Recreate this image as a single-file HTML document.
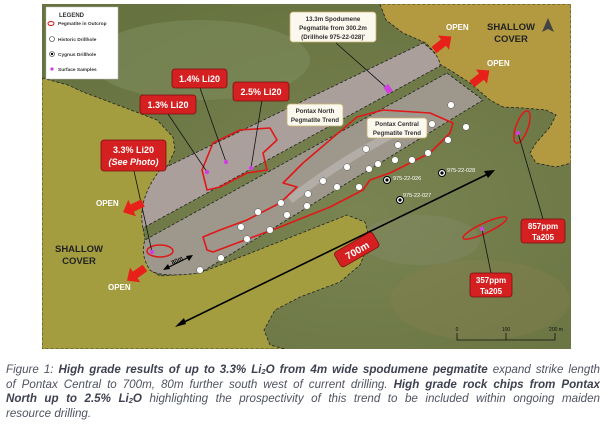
<!DOCTYPE html>
<html><head><meta charset="utf-8"><style>
html,body{margin:0;padding:0;background:#fff;width:606px;height:424px;overflow:hidden}
svg{position:absolute;left:0;top:0}
.cap{position:absolute;left:6px;width:594px;font-family:"Liberation Sans",sans-serif;font-style:italic;font-size:11.6px;color:#4e5360;line-height:14.5px}
.cap div{height:14.5px;text-align:justify;text-align-last:justify;white-space:nowrap;overflow:hidden}
.cap div.l{text-align-last:left}
b{font-weight:bold;color:#3e4250}
.s{font-size:7.5px;position:relative;top:1px}
</style></head><body>
<svg width="606" height="424" viewBox="0 0 606 424" font-family="Liberation Sans, sans-serif">
<defs>
<radialGradient id="g1" cx="0.6" cy="0.6" r="0.7"><stop offset="0" stop-color="#7a8453"/><stop offset="1" stop-color="#66723f"/></radialGradient>
<clipPath id="mc"><rect x="42" y="4" width="529" height="345"/></clipPath>
</defs>
<g clip-path="url(#mc)">
<rect x="42" y="4" width="529" height="345" fill="url(#g1)"/>
<ellipse cx="200" cy="60" rx="110" ry="40" fill="#7d8a5c" opacity="0.6"/>
<ellipse cx="480" cy="300" rx="90" ry="40" fill="#8a8050" opacity="0.35"/>
<ellipse cx="420" cy="240" rx="60" ry="25" fill="#848a66" opacity="0.4"/>
<path d="M42,78 L68,85 L83,92 L123,107 L157,120 L173,137 L175,150 L167,167 L153,187 L143,228 L145,240 L150,270 L160,276 L200,273 L347,215 L365,222 L370,240 L360,265 L340,282 L300,297 L275,310 L264,330 L270,345 L285,349 L42,349 Z" fill="#a39d40" stroke="#222" stroke-width="0.8" stroke-dasharray="3,2"/>
<path d="M380,4 L386,20 L403,33 L426,43 L435,53 L436,62 L453,72 L470,83 L490,100 L503,107 L523,108 L546,110 L556,115 L550,127 L536,143 L530,153 L536,163 L556,167 L571,163 L571,4 Z" fill="#b39a40" stroke="#222" stroke-width="0.8" stroke-dasharray="3,2"/>
<path d="M160,170 L423,43 Q440,55 440,66 L143,228 Q137,200 160,170 Z" fill="#ab9f9c" stroke="#222" stroke-width="0.8" stroke-dasharray="3,2"/>
<path d="M447,73 L483,100 L200,273 Q160,278 150,270 Q140,255 145,240 Z" fill="#9d978c" stroke="#222" stroke-width="0.8" stroke-dasharray="3,2"/>
<path d="M290,200 Q340,160 410,125" stroke="#c8c4c0" stroke-width="8" fill="none" opacity="0.5"/>
<path d="M207,190 L202,170 L213,143 L240,130 L270,128 L277,140 L263,153 L267,170 L247,173 L220,187 Z" fill="none" stroke="#e01818" stroke-width="1.6" stroke-linejoin="round"/>
<path d="M207,250 L203,237 L220,230 L247,220 L280,203 L297,187 L283,183 L303,163 L330,140 L357,117 L383,110 L430,113 L453,123 L450,133 L430,153 L390,173 L370,180 L363,190 L330,207 L280,227 L237,243 L213,252 Z" fill="none" stroke="#e01818" stroke-width="1.6" stroke-linejoin="round"/>
<ellipse cx="160" cy="251" rx="13" ry="6" fill="none" stroke="#e01818" stroke-width="1.5"/>
<ellipse cx="485" cy="228" rx="24" ry="5" transform="rotate(-25 485 228)" fill="none" stroke="#e01818" stroke-width="1.5"/>
<ellipse cx="522" cy="127" rx="6" ry="17" transform="rotate(20 522 127)" fill="none" stroke="#e01818" stroke-width="1.5"/>
<g fill="#fff" stroke="#555" stroke-width="0.5">
<circle cx="451" cy="105" r="3.3"/><circle cx="432" cy="124" r="3.3"/><circle cx="466" cy="127" r="3.3"/><circle cx="448" cy="140" r="3.3"/><circle cx="428" cy="153" r="3.3"/><circle cx="412" cy="160" r="3.3"/><circle cx="398" cy="145" r="3.3"/><circle cx="395" cy="160" r="3.3"/><circle cx="378" cy="164" r="3.3"/><circle cx="369" cy="169" r="3.3"/><circle cx="366" cy="149" r="3.3"/><circle cx="347" cy="167" r="3.3"/><circle cx="359" cy="187" r="3.3"/><circle cx="337" cy="187" r="3.3"/><circle cx="323" cy="181" r="3.3"/><circle cx="308" cy="194" r="3.3"/><circle cx="307" cy="206" r="3.3"/><circle cx="281" cy="203" r="3.3"/><circle cx="287" cy="215" r="3.3"/><circle cx="258" cy="212" r="3.3"/><circle cx="241" cy="227" r="3.3"/><circle cx="270" cy="230" r="3.3"/><circle cx="247" cy="239" r="3.3"/><circle cx="221" cy="258" r="3.3"/><circle cx="200" cy="270" r="3.3"/>
</g>
<g fill="#fff" stroke="#000" stroke-width="1"><circle cx="387" cy="180" r="3.5"/><circle cx="442" cy="173" r="3.5"/><circle cx="400" cy="200" r="3.5"/></g>
<g fill="#000"><circle cx="387" cy="180" r="1.6"/><circle cx="442" cy="173" r="1.6"/><circle cx="400" cy="200" r="1.6"/></g>
<g fill="#fff" font-size="5.5"><text x="393" y="180">975-22-026</text><text x="447" y="172">975-22-028</text><text x="403" y="197">975-22-027</text></g>
<g stroke="#111" stroke-width="0.8"><line x1="200" y1="88" x2="226" y2="162"/><line x1="262" y1="100" x2="251" y2="168"/><line x1="168" y1="114" x2="207" y2="172"/><line x1="134" y1="171" x2="152" y2="252"/><line x1="518" y1="133" x2="543" y2="219"/><line x1="482" y1="229" x2="491" y2="273"/><line x1="336" y1="43" x2="388" y2="89"/></g>
<g fill="#d040e0"><circle cx="207" cy="172" r="2.2"/><circle cx="226" cy="162" r="2.2"/><circle cx="251" cy="168" r="2.2"/><circle cx="152" cy="252" r="2.2"/><circle cx="482" cy="229" r="2.2"/><circle cx="518" cy="133" r="2.2"/><rect x="385" y="85" width="6" height="8" transform="rotate(-35 388 89)"/></g>
<g stroke="#000" stroke-width="1.6" fill="#000"><line x1="178" y1="325" x2="492" y2="172"/></g>
<path d="M175,327 L184,318 L186,324 Z" fill="#000"/><path d="M495,170 L484,171 L488,178 Z" fill="#000"/>
<g stroke="#000" stroke-width="1.2"><line x1="165" y1="269" x2="191" y2="256"/></g>
<path d="M163,270 L168,264 L170,269Z M193,255 L186,256 L189,261Z" fill="#000"/>
<text x="172" y="262" font-size="6" fill="#111" font-weight="bold" transform="rotate(-27 178 262)">80m</text>
<g fill="#e8201a">
<path d="M0,-4 L12,-4 L12,-9 L22,0 L12,9 L12,4 L0,4 Z" transform="translate(434,50) rotate(-38)"/>
<path d="M0,-4 L12,-4 L12,-9 L22,0 L12,9 L12,4 L0,4 Z" transform="translate(472,84) rotate(-38)"/>
<path d="M0,-4 L12,-4 L12,-9 L22,0 L12,9 L12,4 L0,4 Z" transform="translate(143,203) rotate(155)"/>
<path d="M0,-4 L12,-4 L12,-9 L22,0 L12,9 L12,4 L0,4 Z" transform="translate(145,268) rotate(145)"/>
</g>
<g fill="#fff" font-size="8" font-weight="bold"><text x="446" y="30">OPEN</text><text x="487" y="66">OPEN</text><text x="96" y="206">OPEN</text><text x="108" y="290">OPEN</text></g>
<g fill="#222" font-size="9.5" font-weight="bold" text-anchor="middle"><text x="511" y="30">SHALLOW</text><text x="511" y="42">COVER</text><text x="79" y="252">SHALLOW</text><text x="79" y="264">COVER</text></g>
<path d="M548,18 L554,32 L548,29 L542,32 Z" fill="#444"/>
<g stroke="#111" stroke-width="0.8" fill="none"><path d="M457,333 L457,340 L555,340 L555,333 M506,333 L506,340"/></g>
<g font-size="5" fill="#111" text-anchor="middle"><text x="457" y="331">0</text><text x="506" y="331">100</text><text x="556" y="331">200 m</text></g>
<g fill="#d42020" stroke="#7a1010" stroke-width="0.8">
<rect x="172" y="69" width="55" height="19" rx="3"/><rect x="233" y="82" width="56" height="19" rx="3"/><rect x="140" y="95" width="56" height="19" rx="3"/><rect x="101" y="140" width="65" height="31" rx="3"/>
<rect x="521" y="219" width="44" height="24" rx="3"/><rect x="470" y="273" width="42" height="24" rx="3"/>
<rect x="335" y="241" width="44" height="17" rx="3" transform="rotate(-30 357 250)"/>
</g>
<g fill="#fff" font-weight="bold" text-anchor="middle" font-size="9">
<text x="199.5" y="82">1.4% Li20</text><text x="261" y="95">2.5% Li20</text><text x="168" y="108">1.3% Li20</text><text x="133.5" y="153">3.3% Li20</text><text x="133.5" y="165" font-style="italic">(See Photo)</text>
<text x="543" y="229" font-size="8">857ppm</text><text x="543" y="240" font-size="8">Ta205</text><text x="491" y="283" font-size="8">357ppm</text><text x="491" y="294" font-size="8">Ta205</text>
<text x="357" y="254" font-size="10" transform="rotate(-30 357 250)">700m</text>
</g>
<g fill="#fbf8ee" stroke="#c9b273" stroke-width="0.8"><rect x="290" y="12" width="86" height="30" rx="3"/><rect x="287" y="104" width="56" height="22" rx="3"/><rect x="367" y="118" width="60" height="20" rx="3"/></g>
<g fill="#333" font-weight="bold" text-anchor="middle" font-size="6.2">
<text x="333" y="21">13.3m Spodumene</text><text x="333" y="30">Pegmatite from 300.2m</text><text x="333" y="39">(Drillhole 975-22-028)'</text>
<text x="315" y="113">Pontax North</text><text x="315" y="122">Pegmatite Trend</text>
<text x="397" y="126">Pontax Central</text><text x="397" y="135">Pegmatite Trend</text>
</g>
<rect x="46" y="7" width="72" height="72" fill="#fff" stroke="#bbb" stroke-width="0.5"/>
<text x="59" y="17" font-size="6" font-weight="bold" fill="#333">LEGEND</text>
<ellipse cx="51" cy="23.5" rx="3" ry="2" fill="none" stroke="#e01818" stroke-width="1"/>
<circle cx="52" cy="39" r="2.5" fill="#fff" stroke="#333" stroke-width="0.6"/>
<circle cx="52" cy="54" r="2.5" fill="#fff" stroke="#333" stroke-width="0.6"/><circle cx="52" cy="54" r="1.2" fill="#000"/>
<circle cx="52" cy="69" r="1.6" fill="#d040e0"/>
<g font-size="4.8" font-weight="bold" fill="#333"><text x="58" y="25">Pegmatite in Outcrop</text><text x="58" y="41">Historic Drillhole</text><text x="58" y="56">Cygnus Drillhole</text><text x="58" y="71">Surface Samples</text></g>
</g>
</svg>
<div class="cap" style="top:363px">
<div>Figure 1: <b>High grade results of up to 3.3% Li<span class="s">2</span>O from 4m wide spodumene pegmatite</b> expand strike length</div>
<div>of Pontax Central to 700m, 80m further south west of current drilling. <b>High grade rock chips from Pontax</b></div>
<div><b>North up to 2.5% Li<span class="s">2</span>O</b> highlighting the prospectivity of this trend to be included within ongoing maiden</div>
<div class="l">resource drilling.</div>
</div>
</body></html>
